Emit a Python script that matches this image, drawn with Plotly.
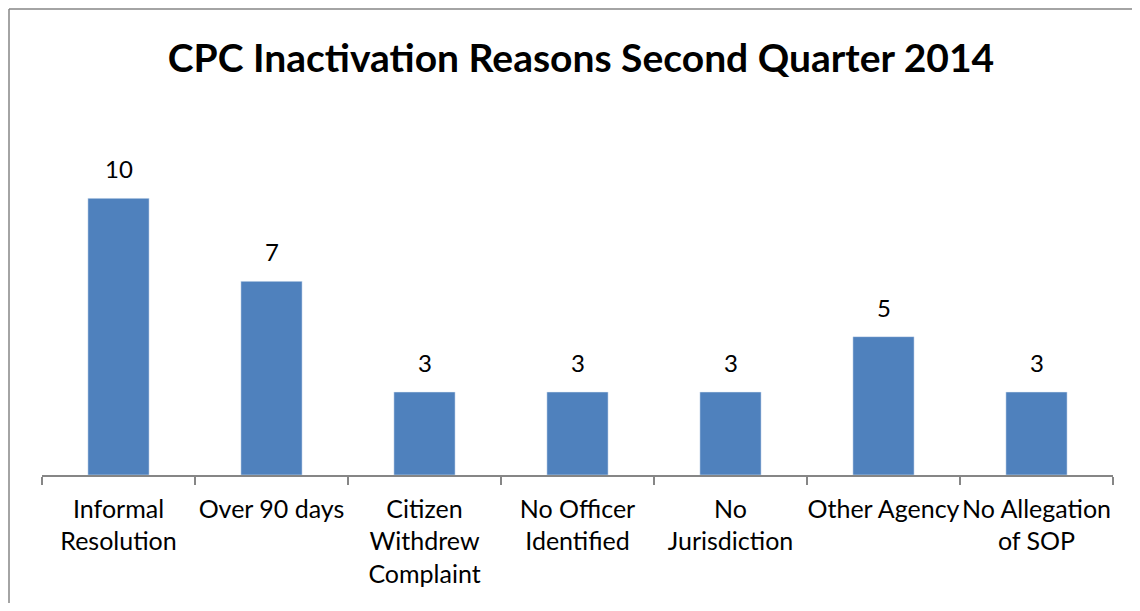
import plotly.graph_objects as go

# Chart data
categories = [
    'Informal<br>Resolution',
    'Over 90 days',
    'Citizen<br>Withdrew<br>Complaint',
    'No Officer<br>Identified',
    'No<br>Jurisdiction',
    'Other Agency',
    'No Allegation<br>of SOP',
]
counts = [10, 7, 3, 3, 3, 5, 3]

title_text = 'CPC Inactivation Reasons Second Quarter 2014'

bar_color = '#4F81BD'
axis_gray = '#868686'
font_family = 'Lato, Open Sans, sans-serif'

# page body has an 8px margin, so the figure is shrunk and shifted to fit
ML, MR, MT, MB = 34, 19, 135, 128
W, H = 1124, 595
plot_w = W - ML - MR
plot_h = H - MT - MB

fig = go.Figure()

fig.add_trace(go.Bar(
    x=categories,
    y=counts,
    marker_color=bar_color,
    cliponaxis=False,
))

# value labels sit a bit higher above the bars than plotly's own outside text
for cat, val in zip(categories, counts):
    fig.add_annotation(
        x=cat, y=val, text=str(val),
        showarrow=False, yanchor='bottom', yshift=13,
        font=dict(size=24, color='black', family=font_family),
    )

# outer chart border: only the left and top edges are on the page
x_left = -(ML - 1) / plot_w
x_right = 1 + MR / plot_w
y_top = 1 + (MT - 1) / plot_h
y_bottom = -MB / plot_h
fig.add_shape(type='line', xref='paper', yref='paper',
              x0=x_left, x1=x_left, y0=y_bottom, y1=y_top,
              line=dict(color=axis_gray, width=1.5))
fig.add_shape(type='line', xref='paper', yref='paper',
              x0=x_left, x1=x_right, y0=y_top, y1=y_top,
              line=dict(color=axis_gray, width=1.5))

fig.update_layout(
    width=W,
    height=H,
    margin=dict(l=ML, r=MR, t=MT, b=MB),
    paper_bgcolor='white',
    plot_bgcolor='white',
    showlegend=False,
    bargap=0.6,
    font=dict(family=font_family, color='black'),
    title=dict(
        text='<b>' + title_text + '</b>',
        x=573 / W, xanchor='center',
        y=1 - 50 / H, yanchor='middle',
        font=dict(size=39, family=font_family, color='black'),
    ),
    xaxis=dict(
        type='category',
        automargin=False,
        showline=True,
        linecolor=axis_gray,
        linewidth=1.5,
        ticks='outside',
        tickson='boundaries',
        ticklen=8,
        tickcolor=axis_gray,
        tickwidth=1.5,
        ticklabelstandoff=11,
        tickfont=dict(size=25, family=font_family, color='black'),
        tickangle=0,
        showgrid=False,
    ),
    yaxis=dict(
        range=[0, 12],
        visible=False,
        showgrid=False,
        zeroline=False,
    ),
)

fig.write_html('out.html')
